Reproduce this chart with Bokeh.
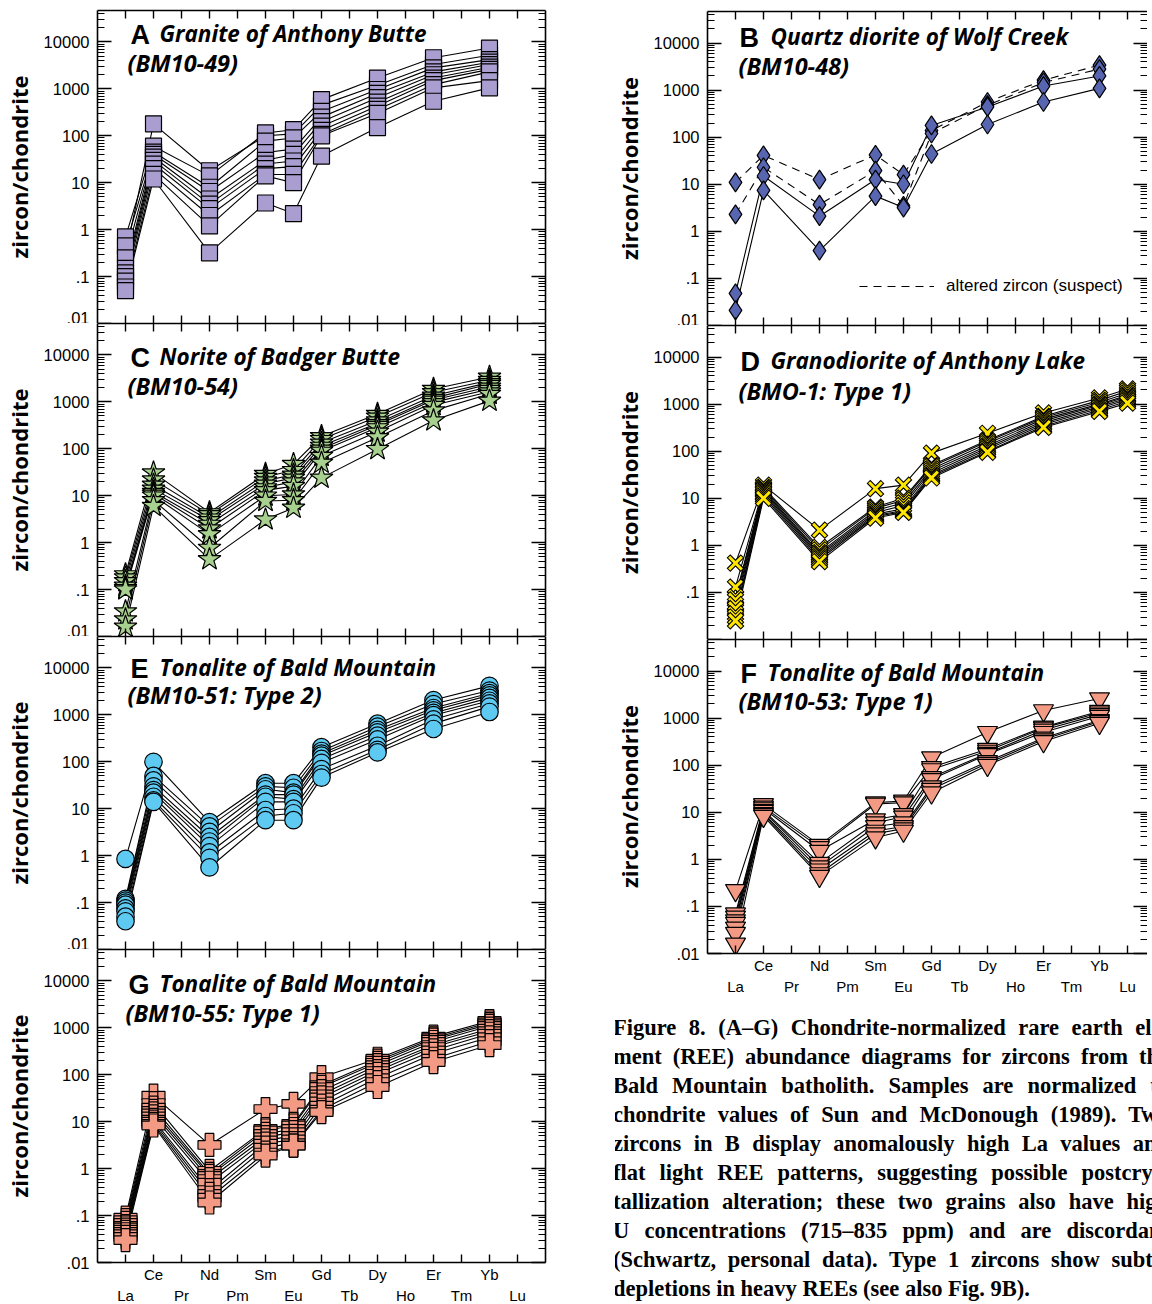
from bokeh.plotting import figure
from bokeh.models import (Range1d, FixedTicker, LinearAxis, LogAxis, Label,
                          Legend, LegendItem, Div)
from bokeh.layouts import column, row
from bokeh.embed import file_html
from bokeh.resources import INLINE

# ---------------- data ----------------
elements = ["La", "Ce", "Pr", "Nd", "Pm", "Sm", "Eu", "Gd", "Tb", "Dy", "Ho", "Er", "Tm", "Yb", "Lu"]
elem_pos = list(range(1, 16))
plotted = ["La", "Ce", "Nd", "Sm", "Eu", "Gd", "Dy", "Er", "Yb"]
plotted_D = ["La", "Ce", "Nd", "Sm", "Eu", "Gd", "Dy", "Er", "Yb", "Lu"]

ytick_vals = [0.01, 0.1, 1, 10, 100, 1000, 10000]
ytick_text = [".01", ".1", "1", "10", "100", "1000", "10000"]

# A  Granite of Anthony Butte (BM10-49)
A_series = [
    [0.3, 180, 18, 100, 110, 450, 1200, 3300, 5200],
    [0.7, 60, 14, 115, 135, 590, 1700, 4600, 7400],
    [0.45, 45, 8, 77, 90, 330, 970, 2800, 4200],
    [0.25, 40, 6.5, 44, 52, 250, 800, 2300, 3700],
    [0.15, 35, 4.5, 30, 40, 200, 650, 2000, 3300],
    [0.12, 30, 3.5, 25, 29, 160, 520, 1700, 2900],
    [0.1, 25, 2.8, 20, 22, 130, 430, 1500, 2600],
    [0.08, 20, 2.0, 15, 15, 107, 365, 1230, 2300],
    [0.06, 15, 1.2, 14, 10, 100, 300, 1050, 1500],
    [0.05, 12, 0.32, 3.7, 2.2, 37, 150, 545, 1050],
]
# B  Quartz diorite of Wolf Creek (BM10-48)
B_series = [
    [11, 41, 12.6, 42, 16, 139, 560, 1630, 3400],
    [2.3, 23, 3.7, 19.5, 3.5, 120, 480, 1450, 2800],
    [0.048, 15, 2.1, 12.6, 10, 178, 440, 1220, 2000],
    [0.021, 7.4, 0.39, 5.6, 3.2, 44, 186, 560, 1090],
]
B_altered = [True, True, False, False]
# C  Norite of Badger Butte (BM10-54)
C_series = [
    [0.21, 31, 4.4, 29, 47, 185, 550, 1880, 3400],
    [0.18, 22, 4.0, 25, 35, 160, 480, 1600, 2900],
    [0.15, 17, 3.4, 21, 28, 134, 400, 1350, 2600],
    [0.12, 14, 3.0, 18, 24, 115, 350, 1200, 2400],
    [0.107, 12, 2.5, 15, 20, 100, 320, 1100, 2100],
    [0.1, 11, 2.0, 13, 16, 90, 285, 975, 1880],
    [0.034, 10, 1.5, 10, 10.6, 70, 230, 850, 1650],
    [0.023, 8, 0.77, 7.7, 8, 50, 175, 650, 1470],
    [0.016, 6, 0.44, 3.1, 5.5, 24, 98, 400, 1050],
]
# D  Granodiorite of Anthony Lake (BMO-1: Type 1)
D_series = [
    [0.42, 19, 2.1, 16, 19, 91, 240, 650, 1350, 2100],
    [0.13, 17, 0.9, 6.5, 10, 50, 170, 550, 1200, 1900],
    [0.08, 16, 0.8, 6.1, 9.1, 47, 160, 520, 1100, 1700],
    [0.069, 15, 0.7, 5.5, 8, 42, 145, 480, 1000, 1550],
    [0.055, 14, 0.65, 5, 7, 38, 130, 440, 950, 1450],
    [0.045, 13, 0.6, 4.6, 6, 34, 120, 400, 880, 1350],
    [0.035, 12, 0.55, 4.3, 5.5, 31, 110, 370, 820, 1250],
    [0.03, 11, 0.5, 4.1, 5.2, 29, 100, 340, 750, 1150],
    [0.025, 10, 0.45, 3.8, 5, 27, 95, 320, 700, 1050],
]
# E  Tonalite of Bald Mountain (BM10-51: Type 2)
E_series = [
    [0.85, 100, 5.2, 35, 35, 205, 650, 2070, 4150],
    [0.12, 50, 4.2, 30, 28, 170, 560, 1700, 3300],
    [0.11, 40, 3.2, 26, 22, 150, 480, 1400, 2900],
    [0.1, 30, 2.5, 20, 20, 135, 425, 1250, 2600],
    [0.09, 25, 2.0, 18, 16, 115, 360, 1100, 2300],
    [0.075, 22, 1.6, 14, 14, 95, 300, 985, 2000],
    [0.065, 18, 1.17, 9.4, 10, 70, 220, 800, 1750],
    [0.05, 15, 0.9, 7, 8, 55, 180, 650, 1500],
    [0.04, 14, 0.56, 5.7, 5.7, 46, 158, 500, 1150],
]
# F  Tonalite of Bald Mountain (BM10-53: Type 1)
F_series = [
    [0.22, 14.7, 2.0, 16, 17.4, 145, 500, 1450, 2600],
    [0.07, 13, 1.8, 15, 16, 90, 220, 650, 1400],
    [0.06, 12, 1.5, 7, 9, 81, 200, 620, 1300],
    [0.05, 11, 0.83, 6, 8, 55, 180, 560, 1200],
    [0.044, 10.5, 0.7, 5, 6, 50, 170, 500, 1100],
    [0.035, 9.5, 0.6, 4, 5, 35, 120, 380, 900],
    [0.027, 9, 0.5, 3.5, 4.5, 31, 110, 350, 850],
    [0.016, 8.3, 0.44, 2.9, 4, 26, 100, 320, 780],
]
# G  Tonalite of Bald Mountain (BM10-55: Type 1)
G_series = [
    [0.09, 36, 3.2, 18.6, 24, 89, 220, 650, 1400],
    [0.08, 25, 0.9, 7, 9, 60, 200, 600, 1300],
    [0.07, 20, 0.77, 6.5, 8.3, 55, 180, 560, 1200],
    [0.06, 17, 0.7, 5.5, 7, 45, 160, 500, 1100],
    [0.056, 15, 0.6, 4.7, 6, 38, 140, 430, 960],
    [0.05, 13, 0.5, 4, 5, 33, 120, 390, 850],
    [0.045, 11, 0.35, 3.4, 4.2, 27, 105, 330, 750],
    [0.04, 10, 0.29, 2.8, 3.5, 22, 85, 280, 630],
    [0.035, 9, 0.24, 2.2, 3.1, 18, 70, 220, 520],
    [0.03, 8.3, 0.19, 1.9, 3.1, 16, 55, 187, 430],
]

titles = {
    "A": ("Granite of Anthony Butte", "(BM10-49)"),
    "B": ("Quartz diorite of Wolf Creek", "(BM10-48)"),
    "C": ("Norite of Badger Butte", "(BM10-54)"),
    "D": ("Granodiorite of Anthony Lake", "(BMO-1: Type 1)"),
    "E": ("Tonalite of Bald Mountain", "(BM10-51: Type 2)"),
    "F": ("Tonalite of Bald Mountain", "(BM10-53: Type 1)"),
    "G": ("Tonalite of Bald Mountain", "(BM10-55: Type 1)"),
}
legend_text = "altered zircon (suspect)"

caption_lines = [
    "Figure 8. (A\u2013G) Chondrite-normalized rare earth ele-",
    "ment (REE) abundance diagrams for zircons from the",
    "Bald Mountain batholith. Samples are normalized to",
    "chondrite values of Sun and McDonough (1989). Two",
    "zircons in B display anomalously high La values and",
    "flat light REE patterns, suggesting possible postcrys-",
    "tallization alteration; these two grains also have high",
    "U concentrations (715\u2013835 ppm) and are discordant",
    "(Schwartz, personal data). Type 1 zircons show subtle",
    "depletions in heavy REEs (see also Fig. 9B).",
]

# ---------------- styling ----------------
PX_EL = 28.0
YLOG_TOP = 4.67
LEFT_PAD = 97
LBL_FONT = "Liberation Sans"
TITLE_FONT = "Open Sans"

pos = {e: i + 1 for i, e in enumerate(elements)}
minor_ticks = [m * 10.0 ** e for e in range(-2, 5) for m in range(2, 10)]


def hide_labels(ax):
    ax.major_label_text_font_size = "1px"
    ax.major_label_text_alpha = 0
    ax.major_label_text_color = None
    ax.major_label_standoff = 0


def make_panel(letter, series, frame_w, frame_h, right_pad, top_pad,
               show_xlabels, marker, size, fill, title_off, hide_bottom_label=False,
               right_line=True, dashed=None, elems=plotted, x_layer=False):
    x_end = frame_w / PX_EL
    p = figure(frame_width=frame_w, frame_height=frame_h,
               x_range=Range1d(0, x_end), y_range=Range1d(0.01, 10 ** YLOG_TOP),
               y_axis_type="log", output_backend="svg", toolbar_location=None,
               min_border_left=LEFT_PAD, min_border_right=right_pad,
               min_border_top=top_pad, min_border_bottom=0)
    p.outline_line_color = None
    p.xgrid.grid_line_color = None
    p.ygrid.grid_line_color = None

    # bottom tick axis
    xb = p.xaxis[0]
    xb.ticker = FixedTicker(ticks=elem_pos, minor_ticks=[])
    xb.major_tick_in = 8
    xb.major_tick_out = 0
    xb.minor_tick_in = 0
    xb.minor_tick_out = 0
    xb.axis_line_width = 1.6
    xb.major_tick_line_width = 1.4
    hide_labels(xb)
    if show_xlabels:
        even = [x for x in elem_pos if x % 2 == 0]
        odd = [x for x in elem_pos if x % 2 == 1]
        for ticks, standoff in ((even, 3), (odd, 1)):
            ax = LinearAxis(ticker=FixedTicker(ticks=ticks, minor_ticks=[]),
                            major_label_overrides={x: elements[x - 1] for x in ticks},
                            major_tick_in=0, major_tick_out=0, minor_tick_in=0, minor_tick_out=0,
                            axis_line_color=None, major_tick_line_color=None,
                            major_label_standoff=standoff, major_label_text_color="black",
                            major_label_text_font=LBL_FONT, major_label_text_font_size="15px")
            p.add_layout(ax, "below")

    # top axis
    xt = LinearAxis(ticker=FixedTicker(ticks=elem_pos, minor_ticks=[]),
                    major_tick_in=8, major_tick_out=0, minor_tick_in=0, minor_tick_out=0,
                    axis_line_width=1.6, major_tick_line_width=1.4)
    hide_labels(xt)
    p.add_layout(xt, "above")

    # left axis
    yl = p.yaxis[0]
    yl.ticker = FixedTicker(ticks=ytick_vals, minor_ticks=minor_ticks)
    ov = {v: t for v, t in zip(ytick_vals, ytick_text)}
    if hide_bottom_label:
        ov[0.01] = " "
    yl.major_label_overrides = ov
    yl.major_tick_in = 14
    yl.major_tick_out = 0
    yl.minor_tick_in = 7
    yl.minor_tick_out = 0
    yl.axis_line_width = 1.6
    yl.major_tick_line_width = 1.4
    yl.minor_tick_line_width = 1
    yl.major_label_text_font = LBL_FONT
    yl.major_label_text_font_size = "16.5px"
    yl.major_label_text_color = "black"
    yl.major_label_standoff = 8
    yl.axis_label = "zircon/chondrite"
    yl.axis_label_text_font = "Open Sans"
    yl.axis_label_text_font_style = "bold"
    yl.axis_label_text_font_size = "22px"
    yl.axis_label_text_color = "black"
    yl.axis_label_standoff = 7

    # right axis
    yr = LogAxis(ticker=FixedTicker(ticks=ytick_vals, minor_ticks=minor_ticks),
                 major_tick_in=14, major_tick_out=0, minor_tick_in=7, minor_tick_out=0,
                 axis_line_width=1.6, major_tick_line_width=1.4, minor_tick_line_width=1,
                 axis_line_color="black" if right_line else None)
    hide_labels(yr)
    p.add_layout(yr, "right")

    xs = [pos[e] for e in elems]
    dash_r = None
    for i, s in enumerate(series):
        d = "8 6" if (dashed and dashed[i]) else "solid"
        r = p.line(xs, s, line_color="black", line_width=1.1, line_dash=d)
        if dashed and dashed[i] and dash_r is None:
            dash_r = r
    if x_layer:
        for s in series:
            p.scatter(xs, s, marker="x", size=size, line_color="black", line_width=5.2)
            p.scatter(xs, s, marker="x", size=size - 2, line_color=fill, line_width=3)
    else:
        for s in series:
            p.scatter(xs, s, marker=marker, size=size, fill_color=fill,
                      line_color="black", line_width=1.2)

    # titles
    dec_px = frame_h / (YLOG_TOP + 2)
    ldx, tdx, bl1, sdx, bl2 = title_off

    def yat(dy):
        return 10 ** (YLOG_TOP - dy / dec_px)

    p.add_layout(Label(x=ldx / PX_EL, y=yat(bl1 + 1), text=letter, text_font=LBL_FONT,
                       text_font_style="bold", text_font_size="27px", text_color="black",
                       text_baseline="bottom", text_align="left"))
    p.add_layout(Label(x=tdx / PX_EL, y=yat(bl1), text=titles[letter][0], text_font=TITLE_FONT,
                       text_font_style="bold italic", text_font_size="22.5px", text_color="black",
                       text_baseline="bottom", text_align="left"))
    p.add_layout(Label(x=sdx / PX_EL, y=yat(bl2), text=titles[letter][1], text_font=TITLE_FONT,
                       text_font_style="bold italic", text_font_size="23.5px", text_color="black",
                       text_baseline="bottom", text_align="left"))
    return p, dash_r


LW = 448
RW = 440
LH = 313
RH = 314
LRP = 65
salmon = "#f39a84"

pA, _ = make_panel("A", A_series, LW, LH, LRP, 10, False, "square", 16, "#aa9dcf", (33, 62, 38, 30, 68))
pC, _ = make_panel("C", C_series, LW, LH, LRP, 0, False, "star", 24, "#a8d08e", (33, 62, 48, 30, 78))
pE, _ = make_panel("E", E_series, LW, LH, LRP, 0, False, "circle", 17.5, "#5ec9f1", (33, 62, 46, 30, 74))
pG, _ = make_panel("G", G_series, LW, LH, LRP, 0, True, "plus", 23, salmon, (31, 62, 49, 28, 79))

pB, dash_r = make_panel("B", B_series, RW, RH, 0, 11, False, "diamond", 19, "#5865b0", (32, 63, 40, 31, 70),
                        right_line=False, dashed=B_altered)
pD, _ = make_panel("D", D_series, RW, RH, 0, 0, False, "x", 20, "#ffe600", (33, 63, 50, 31, 81),
                   hide_bottom_label=True, right_line=False, elems=plotted_D, x_layer=True)
pF, _ = make_panel("F", F_series, RW, RH, 0, 0, True, "inverted_triangle", 20, salmon, (33, 60, 48, 31, 77),
                   right_line=False)

leg = Legend(items=[LegendItem(label=legend_text, renderers=[dash_r])],
             location=(152, 29), glyph_width=75, glyph_height=20, label_height=20,
             label_standoff=12, padding=0, margin=0, border_line_color=None,
             background_fill_alpha=0, label_text_font=LBL_FONT, label_text_font_size="17px",
             label_text_color="black")
pB.add_layout(leg)

lines_html = []
for i, ln in enumerate(caption_lines):
    last = (i == len(caption_lines) - 1)
    align = "left" if last else "justify"
    lines_html.append(
        f'<div style="text-align:{align};text-align-last:{align};white-space:normal">{ln}</div>')
caption_html = ('<div style="margin-left:-2px;width:556px;font-family:\'Liberation Serif\';'
                'font-weight:bold;font-size:22.5px;line-height:29px;color:#000">'
                + "".join(lines_html) + "</div>")
cap = Div(text=caption_html, width=541, height=300,
          styles={"overflow": "hidden", "margin-top": "16px"})

left = column(pA, pC, pE, pG, spacing=0)
right = column(pB, pD, pF, cap, spacing=0)
layout = row(left, right, spacing=0)

open("out.html", "w").write(file_html(layout, INLINE))
